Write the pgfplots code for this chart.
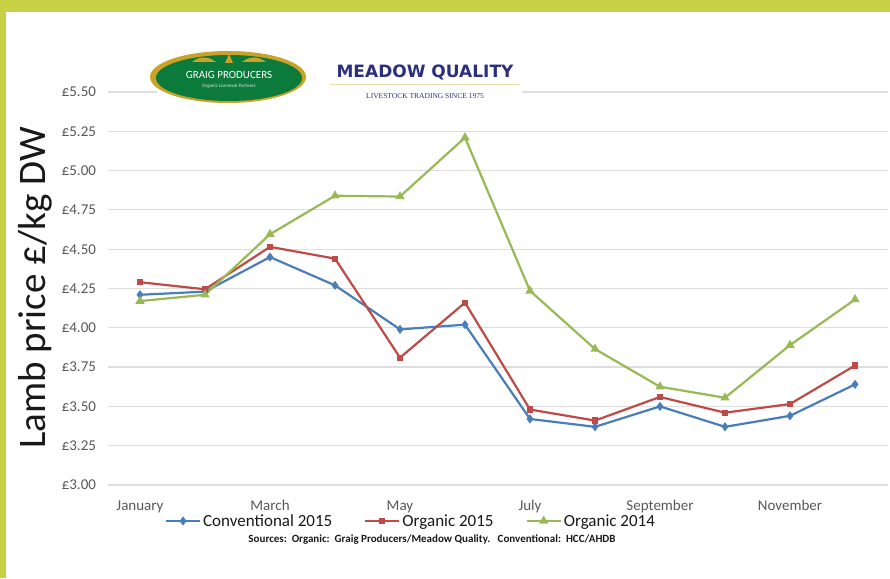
\documentclass[border=0pt]{standalone}
\usepackage{pgfplots}
\pgfplotsset{compat=1.18}
\usepackage{fontspec}
\setmainfont{Carlito}
\newfontfamily\dejafont{DejaVu Sans}
\newfontfamily\seriffont{Liberation Serif}
\definecolor{limeband}{HTML}{C8D046}
\definecolor{cblue}{HTML}{4A7EBB}
\definecolor{cred}{HTML}{BE4B48}
\definecolor{cgreen}{HTML}{98B954}
\definecolor{navy}{HTML}{2B2F7E}
\definecolor{ggreen}{HTML}{0B7A3B}
\definecolor{gold}{HTML}{C9A227}
\definecolor{tickgray}{HTML}{595959}
\begin{document}
\begin{tikzpicture}[x=1pt,y=1pt]
\fill[limeband] (0,0) rectangle (890,578);
\fill[white] (6,0) rectangle (890,566);
\begin{axis}[
  at={(107.5pt,93pt)}, anchor=south west,
  scale only axis, width=780pt, height=393pt,
  xmin=-0.5, xmax=11.5, ymin=3, ymax=5.5,
  axis line style={draw=none},
  major tick length=0pt,
  ymajorgrids, grid style={draw=black!13, line width=1.2pt},
  xtick={0,2,4,6,8,10},
  xticklabels={January,March,May,July,September,November},
  ytick={3,3.25,3.5,3.75,4,4.25,4.5,4.75,5,5.25,5.5},
  yticklabels={£3.00,£3.25,£3.50,£3.75,£4.00,£4.25,£4.50,£4.75,£5.00,£5.25,£5.50},
  ticklabel style={font=\fontsize{15}{17}\selectfont, text=tickgray},
  yticklabel style={xshift=-8pt},
  xticklabel style={yshift=-12pt},
  legend style={at={(0.389,-0.0916)}, anchor=center, draw=none, fill=none,
    legend columns=3, font=\fontsize{17}{20}\selectfont, text=black!90,
    /tikz/every even column/.append style={column sep=30pt}},
  legend image code/.code={\draw[mark repeat=2,mark phase=2,#1] plot coordinates {(0pt,0pt) (17pt,0pt) (34pt,0pt)};},
  clip=false,
]
\addplot[cblue, line width=2.2pt, mark=diamond*, mark size=2.8pt, mark options={solid}] coordinates {
(0,4.21) (1,4.23) (2,4.45) (3,4.27) (4,3.99) (5,4.02) (6,3.42) (7,3.37) (8,3.50) (9,3.37) (10,3.44) (11,3.64)};
\addlegendentry{Conventional 2015}
\addplot[cred, line width=2.2pt, mark=square*, mark size=2pt] coordinates {
(0,4.29) (1,4.245) (2,4.515) (3,4.44) (4,3.81) (5,4.16) (6,3.48) (7,3.41) (8,3.56) (9,3.46) (10,3.515) (11,3.76)};
\addlegendentry{Organic 2015}
\addplot[cgreen, line width=2.2pt, mark=triangle*, mark size=3.2pt] coordinates {
(0,4.17) (1,4.21) (2,4.595) (3,4.84) (4,4.835) (5,5.21) (6,4.235) (7,3.865) (8,3.625) (9,3.555) (10,3.89) (11,4.18)};
\addlegendentry{Organic 2014}
\end{axis}
% y label
\node[rotate=90, anchor=base, font=\fontsize{39}{41}\selectfont, text=black!90] at (45,290) {Lamb price £/kg DW};
% sources
\node[font=\bfseries\fontsize{11}{13}\selectfont, text=black!90] at (432,38) {Sources:\ \ Organic:\ \ Graig Producers/Meadow Quality.\ \ \ Conventional:\ \ HCC/AHDB};
% logos
\fill[white] (157,470) rectangle (522,531);
\fill[gold] (228,501) ellipse [x radius=78, y radius=26];
\fill[ggreen] (229,500) ellipse [x radius=73, y radius=23];
\fill[gold] (192,516) .. controls (200,522) and (208,522) .. (216,516) -- cycle;
\fill[gold] (242,516) .. controls (250,522) and (258,522) .. (266,516) -- cycle;
\fill[gold] (225,515) -- (229,524) -- (233,515) -- cycle;
\node[text=white, font=\fontsize{11}{12}\selectfont] at (229,503) {GRAIG PRODUCERS};
\node[text=white!85!ggreen, font=\fontsize{5}{6}\selectfont] at (229,492) {Organic Livestock Partners};
\node[text=navy, font=\dejafont\bfseries\fontsize{17}{19}\selectfont] at (425,506) {MEADOW QUALITY};
\draw[gold!40, line width=0.6pt] (330,494) -- (520,494);
\node[text=navy, font=\seriffont\fontsize{7.5}{9}\selectfont] at (425,482) {LIVESTOCK TRADING SINCE 1975};
\end{tikzpicture}
\end{document}
